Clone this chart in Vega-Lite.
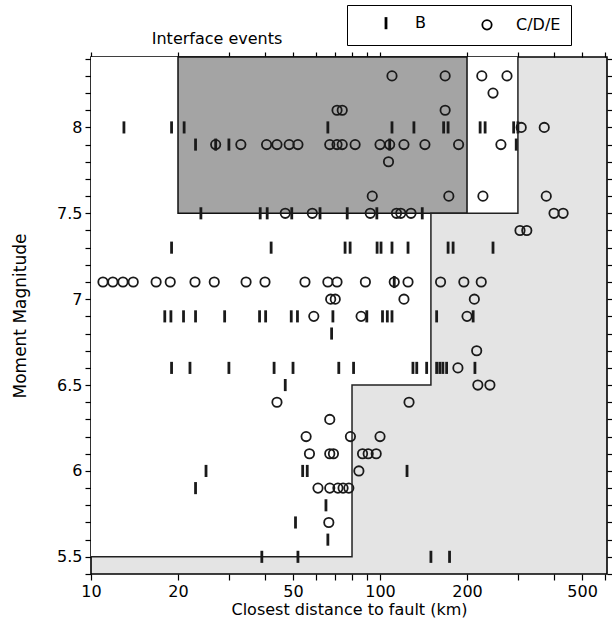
{
  "$schema": "https://vega.github.io/schema/vega-lite/v6.json",
  "width": 516,
  "height": 517,
  "autosize": {"type": "none"},
  "padding": {"left": 91, "top": 57, "right": 5, "bottom": 54},
  "config": {
    "view": {"stroke": "black", "strokeWidth": 1.6, "fill": "#e4e4e4"},
    "font": "DejaVu Sans",
    "axis": {
      "domain": false, "grid": false, "tickColor": "black", "tickWidth": 1.2, "tickSize": 5,
      "labelFont": "DejaVu Sans", "titleFont": "DejaVu Sans", "labelColor": "black", "titleColor": "black",
      "labelFontSize": 16, "titleFontSize": 16, "titleFontWeight": "normal", "labelOverlap": false, "labelFlush": false
    }
  },
  "layer": [
    {
      "data": {"values": [
        {"x1": 10, "x2": 80, "y1": 5.5, "y2": 8.41},
        {"x1": 80, "x2": 150, "y1": 6.5, "y2": 8.41},
        {"x1": 150, "x2": 300, "y1": 7.5, "y2": 8.41}
      ]},
      "mark": {"type": "rect", "fill": "white", "strokeWidth": 0},
      "encoding": {
        "x": {"field": "x1", "type": "quantitative", "scale": {"type": "log", "domain": [10, 610], "nice": false},
              "axis": {"orient": "top", "values": [10,20,30,40,50,60,70,80,90,100,200,300,400,500,600], "labels": false, "title": null}},
        "x2": {"field": "x2"},
        "y": {"field": "y1", "type": "quantitative", "scale": {"domain": [5.4, 8.41], "nice": false, "zero": false},
              "axis": {"orient": "right", "values": [5.4,5.5,5.6,5.7,5.8,5.9,6,6.1,6.2,6.3,6.4,6.5,6.6,6.7,6.8,6.9,7,7.1,7.2,7.3,7.4,7.5,7.6,7.7,7.8,7.9,8,8.1,8.2,8.3,8.4], "labels": false, "title": null}},
        "y2": {"field": "y2"}
      }
    },
    {
      "data": {"values": [{"x1": 20, "x2": 200, "y1": 7.5, "y2": 8.41}]},
      "mark": {"type": "rect", "fill": "#a4a4a4", "stroke": "#111", "strokeWidth": 1.5},
      "encoding": {
        "x": {"field": "x1", "type": "quantitative", "scale": {"type": "log", "domain": [10, 610], "nice": false}, "axis": null},
        "x2": {"field": "x2"},
        "y": {"field": "y1", "type": "quantitative", "scale": {"domain": [5.4, 8.41], "nice": false, "zero": false}, "axis": null},
        "y2": {"field": "y2"}
      }
    },
    {
      "data": {"values": [
        {"x": 10, "y": 5.5, "o": 1}, {"x": 80, "y": 5.5, "o": 2}, {"x": 80, "y": 6.5, "o": 3},
        {"x": 150, "y": 6.5, "o": 4}, {"x": 150, "y": 7.5, "o": 5}, {"x": 300, "y": 7.5, "o": 6}, {"x": 300, "y": 8.41, "o": 7}
      ]},
      "mark": {"type": "line", "color": "#222", "strokeWidth": 1.5},
      "encoding": {
        "x": {"field": "x", "type": "quantitative", "scale": {"type": "log", "domain": [10, 610], "nice": false}, "axis": null},
        "y": {"field": "y", "type": "quantitative", "scale": {"domain": [5.4, 8.41], "nice": false, "zero": false}, "axis": null},
        "order": {"field": "o", "type": "quantitative"}
      }
    },
    {
      "data": {"values": [
        {"d": 110, "m": 8.3, "c": "C/D/E"}, {"d": 168, "m": 8.3, "c": "C/D/E"}, {"d": 225, "m": 8.3, "c": "C/D/E"}, {"d": 275, "m": 8.3, "c": "C/D/E"},
        {"d": 246, "m": 8.2, "c": "C/D/E"},
        {"d": 71, "m": 8.1, "c": "C/D/E"}, {"d": 74, "m": 8.1, "c": "C/D/E"}, {"d": 168, "m": 8.1, "c": "C/D/E"},
        {"d": 13, "m": 8.0, "c": "B"}, {"d": 19, "m": 8.0, "c": "B"}, {"d": 21, "m": 8.0, "c": "B"}, {"d": 66, "m": 8.0, "c": "B"},
        {"d": 110, "m": 8.0, "c": "B"}, {"d": 131, "m": 8.0, "c": "B"}, {"d": 166, "m": 8.0, "c": "B"}, {"d": 172, "m": 8.0, "c": "B"},
        {"d": 222, "m": 8.0, "c": "B"}, {"d": 231, "m": 8.0, "c": "B"}, {"d": 290, "m": 8.0, "c": "B"}, {"d": 300, "m": 8.0, "c": "B"},
        {"d": 308, "m": 8.0, "c": "C/D/E"}, {"d": 370, "m": 8.0, "c": "C/D/E"},
        {"d": 23, "m": 7.9, "c": "B"}, {"d": 27, "m": 7.9, "c": "B"}, {"d": 30, "m": 7.9, "c": "B"}, {"d": 108, "m": 7.9, "c": "B"}, {"d": 296, "m": 7.9, "c": "B"},
        {"d": 27, "m": 7.9, "c": "C/D/E"}, {"d": 33, "m": 7.9, "c": "C/D/E"}, {"d": 40.5, "m": 7.9, "c": "C/D/E"}, {"d": 44, "m": 7.9, "c": "C/D/E"},
        {"d": 48.5, "m": 7.9, "c": "C/D/E"}, {"d": 52, "m": 7.9, "c": "C/D/E"}, {"d": 67, "m": 7.9, "c": "C/D/E"}, {"d": 71, "m": 7.9, "c": "C/D/E"},
        {"d": 74, "m": 7.9, "c": "C/D/E"}, {"d": 82, "m": 7.9, "c": "C/D/E"}, {"d": 100, "m": 7.9, "c": "C/D/E"}, {"d": 108, "m": 7.9, "c": "C/D/E"},
        {"d": 121, "m": 7.9, "c": "C/D/E"}, {"d": 143, "m": 7.9, "c": "C/D/E"}, {"d": 187, "m": 7.9, "c": "C/D/E"}, {"d": 262, "m": 7.9, "c": "C/D/E"},
        {"d": 107, "m": 7.8, "c": "C/D/E"},
        {"d": 94, "m": 7.6, "c": "C/D/E"}, {"d": 173, "m": 7.6, "c": "C/D/E"}, {"d": 227, "m": 7.6, "c": "C/D/E"}, {"d": 376, "m": 7.6, "c": "C/D/E"},
        {"d": 24, "m": 7.5, "c": "B"}, {"d": 38.5, "m": 7.5, "c": "B"}, {"d": 40.7, "m": 7.5, "c": "B"}, {"d": 49.5, "m": 7.5, "c": "B"},
        {"d": 62, "m": 7.5, "c": "B"}, {"d": 77, "m": 7.5, "c": "B"}, {"d": 97.5, "m": 7.5, "c": "B"}, {"d": 140, "m": 7.5, "c": "B"},
        {"d": 47, "m": 7.5, "c": "C/D/E"}, {"d": 58.3, "m": 7.5, "c": "C/D/E"}, {"d": 92.5, "m": 7.5, "c": "C/D/E"}, {"d": 114, "m": 7.5, "c": "C/D/E"},
        {"d": 118, "m": 7.5, "c": "C/D/E"}, {"d": 128, "m": 7.5, "c": "C/D/E"}, {"d": 400, "m": 7.5, "c": "C/D/E"}, {"d": 430, "m": 7.5, "c": "C/D/E"},
        {"d": 305, "m": 7.4, "c": "C/D/E"}, {"d": 322, "m": 7.4, "c": "C/D/E"},
        {"d": 19, "m": 7.3, "c": "B"}, {"d": 42, "m": 7.3, "c": "B"}, {"d": 75.7, "m": 7.3, "c": "B"}, {"d": 78.8, "m": 7.3, "c": "B"},
        {"d": 97.7, "m": 7.3, "c": "B"}, {"d": 100.8, "m": 7.3, "c": "B"}, {"d": 110, "m": 7.3, "c": "B"}, {"d": 125, "m": 7.3, "c": "B"},
        {"d": 172, "m": 7.3, "c": "B"}, {"d": 179, "m": 7.3, "c": "B"}, {"d": 246, "m": 7.3, "c": "B"},
        {"d": 11, "m": 7.1, "c": "C/D/E"}, {"d": 11.9, "m": 7.1, "c": "C/D/E"}, {"d": 12.9, "m": 7.1, "c": "C/D/E"}, {"d": 14, "m": 7.1, "c": "C/D/E"},
        {"d": 16.8, "m": 7.1, "c": "C/D/E"}, {"d": 18.8, "m": 7.1, "c": "C/D/E"}, {"d": 22.9, "m": 7.1, "c": "C/D/E"}, {"d": 26.7, "m": 7.1, "c": "C/D/E"},
        {"d": 34.4, "m": 7.1, "c": "C/D/E"}, {"d": 40, "m": 7.1, "c": "C/D/E"}, {"d": 55, "m": 7.1, "c": "C/D/E"}, {"d": 66, "m": 7.1, "c": "C/D/E"},
        {"d": 71, "m": 7.1, "c": "C/D/E"}, {"d": 89, "m": 7.1, "c": "C/D/E"}, {"d": 112, "m": 7.1, "c": "C/D/E"}, {"d": 125, "m": 7.1, "c": "C/D/E"},
        {"d": 162, "m": 7.1, "c": "C/D/E"}, {"d": 195, "m": 7.1, "c": "C/D/E"}, {"d": 224, "m": 7.1, "c": "C/D/E"}, {"d": 112, "m": 7.1, "c": "B"},
        {"d": 67.5, "m": 7.0, "c": "C/D/E"}, {"d": 70, "m": 7.0, "c": "C/D/E"}, {"d": 121, "m": 7.0, "c": "C/D/E"}, {"d": 212, "m": 7.0, "c": "C/D/E"},
        {"d": 18, "m": 6.9, "c": "B"}, {"d": 18.9, "m": 6.9, "c": "B"}, {"d": 20.9, "m": 6.9, "c": "B"}, {"d": 23, "m": 6.9, "c": "B"},
        {"d": 29, "m": 6.9, "c": "B"}, {"d": 38.3, "m": 6.9, "c": "B"}, {"d": 40.2, "m": 6.9, "c": "B"}, {"d": 49.3, "m": 6.9, "c": "B"},
        {"d": 51.8, "m": 6.9, "c": "B"}, {"d": 68.7, "m": 6.9, "c": "B"}, {"d": 90, "m": 6.9, "c": "B"}, {"d": 102, "m": 6.9, "c": "B"},
        {"d": 106, "m": 6.9, "c": "B"}, {"d": 110, "m": 6.9, "c": "B"}, {"d": 157, "m": 6.9, "c": "B"}, {"d": 210, "m": 6.9, "c": "B"},
        {"d": 59, "m": 6.9, "c": "C/D/E"}, {"d": 86, "m": 6.9, "c": "C/D/E"}, {"d": 200, "m": 6.9, "c": "C/D/E"},
        {"d": 68, "m": 6.8, "c": "B"},
        {"d": 216, "m": 6.7, "c": "C/D/E"},
        {"d": 19, "m": 6.6, "c": "B"}, {"d": 22, "m": 6.6, "c": "B"}, {"d": 30, "m": 6.6, "c": "B"}, {"d": 43, "m": 6.6, "c": "B"},
        {"d": 50, "m": 6.6, "c": "B"}, {"d": 72, "m": 6.6, "c": "B"}, {"d": 81, "m": 6.6, "c": "B"}, {"d": 130, "m": 6.6, "c": "B"},
        {"d": 134, "m": 6.6, "c": "B"}, {"d": 145, "m": 6.6, "c": "B"}, {"d": 157, "m": 6.6, "c": "B"}, {"d": 161, "m": 6.6, "c": "B"},
        {"d": 165, "m": 6.6, "c": "B"}, {"d": 170, "m": 6.6, "c": "B"}, {"d": 213, "m": 6.6, "c": "B"}, {"d": 186, "m": 6.6, "c": "C/D/E"},
        {"d": 47, "m": 6.5, "c": "B"}, {"d": 218, "m": 6.5, "c": "C/D/E"}, {"d": 240, "m": 6.5, "c": "C/D/E"},
        {"d": 44, "m": 6.4, "c": "C/D/E"}, {"d": 126, "m": 6.4, "c": "C/D/E"},
        {"d": 67, "m": 6.3, "c": "C/D/E"},
        {"d": 55.5, "m": 6.2, "c": "C/D/E"}, {"d": 79, "m": 6.2, "c": "C/D/E"}, {"d": 100, "m": 6.2, "c": "C/D/E"},
        {"d": 57, "m": 6.1, "c": "C/D/E"}, {"d": 67, "m": 6.1, "c": "C/D/E"}, {"d": 69, "m": 6.1, "c": "C/D/E"}, {"d": 87, "m": 6.1, "c": "C/D/E"},
        {"d": 91, "m": 6.1, "c": "C/D/E"}, {"d": 97, "m": 6.1, "c": "C/D/E"},
        {"d": 25, "m": 6.0, "c": "B"}, {"d": 54, "m": 6.0, "c": "B"}, {"d": 56, "m": 6.0, "c": "B"}, {"d": 124, "m": 6.0, "c": "B"}, {"d": 84.5, "m": 6.0, "c": "C/D/E"},
        {"d": 23, "m": 5.9, "c": "B"}, {"d": 61, "m": 5.9, "c": "C/D/E"}, {"d": 67, "m": 5.9, "c": "C/D/E"}, {"d": 71.5, "m": 5.9, "c": "C/D/E"},
        {"d": 74.5, "m": 5.9, "c": "C/D/E"}, {"d": 78, "m": 5.9, "c": "C/D/E"},
        {"d": 65, "m": 5.8, "c": "B"},
        {"d": 51, "m": 5.7, "c": "B"}, {"d": 66.5, "m": 5.7, "c": "C/D/E"},
        {"d": 66, "m": 5.6, "c": "B"},
        {"d": 39, "m": 5.5, "c": "B"}, {"d": 52, "m": 5.5, "c": "B"}, {"d": 150, "m": 5.5, "c": "B"}, {"d": 174, "m": 5.5, "c": "B"}
      ]},
      "mark": {"type": "point", "filled": false, "size": 121, "stroke": "#1a1a1a", "opacity": 1},
      "encoding": {
        "x": {"field": "d", "type": "quantitative", "scale": {"type": "log", "domain": [10, 610], "nice": false},
              "axis": {"orient": "bottom", "values": [10,20,30,40,50,60,70,80,90,100,200,300,400,500,600], "format": "d",
                       "labelExpr": "indexof([10,20,50,100,200,500], datum.value) >= 0 ? datum.label : ''",
                       "title": "Closest distance to fault (km)", "tickSize": 6, "labelPadding": 3, "titlePadding": 2}},
        "y": {"field": "m", "type": "quantitative", "scale": {"domain": [5.4, 8.41], "nice": false, "zero": false},
              "axis": {"orient": "left", "values": [5.4,5.5,5.6,5.7,5.8,5.9,6,6.1,6.2,6.3,6.4,6.5,6.6,6.7,6.8,6.9,7,7.1,7.2,7.3,7.4,7.5,7.6,7.7,7.8,7.9,8,8.1,8.2,8.3,8.4],
                       "labelExpr": "abs(datum.value*2 - round(datum.value*2)) < 0.001 ? format(datum.value, '~g') : ''",
                       "title": "Moment Magnitude", "titleFontSize": 17, "tickSize": 6, "labelPadding": 3, "titlePadding": 27}},
        "shape": {"field": "c", "type": "nominal",
                  "scale": {"domain": ["B", "C/D/E"], "range": ["M0,-1.1L0,1.1", "M-0.85,0A0.85,0.85 0 1,1 0.85,0A0.85,0.85 0 1,1 -0.85,0"]},
                  "legend": {"title": null, "orient": "none", "legendX": 256, "legendY": -52, "direction": "horizontal",
                             "strokeColor": "black", "fillColor": "white", "padding": 10,
                             "labelFontSize": 16, "labelFont": "DejaVu Sans", "labelColor": "black",
                             "symbolSize": 121, "symbolStrokeColor": "black", "symbolStrokeWidth": 2, "symbolFillColor": "transparent",
                             "symbolOffset": 21, "labelOffset": 21, "columnPadding": 32,
                             "encode": {"legend": {"update": {"strokeWidth": {"value": 1.8}}}}}},
        "strokeWidth": {"field": "c", "type": "nominal", "scale": {"domain": ["B", "C/D/E"], "range": [2.8, 1.8]}, "legend": null}
      }
    },
    {
      "data": {"values": [{"d": 27.3, "m": 8.517, "label": "Interface events"}]},
      "mark": {"type": "text", "fontSize": 16, "font": "DejaVu Sans", "color": "black", "baseline": "middle", "align": "center"},
      "encoding": {
        "x": {"field": "d", "type": "quantitative", "scale": {"type": "log", "domain": [10, 610], "nice": false}, "axis": null},
        "y": {"field": "m", "type": "quantitative", "scale": {"domain": [5.4, 8.41], "nice": false, "zero": false}, "axis": null},
        "text": {"field": "label"}
      }
    }
  ],
  "resolve": {"axis": {"x": "independent", "y": "independent"}}
}
